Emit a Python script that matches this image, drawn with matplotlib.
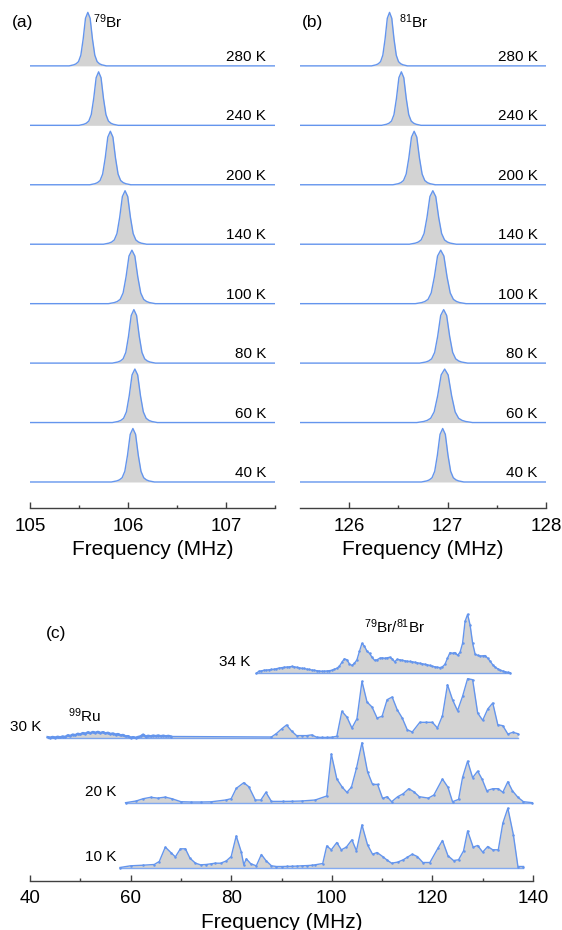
import numpy as np
import matplotlib
matplotlib.use('Agg')
from matplotlib import pyplot as plt
import matplotlib.ticker as tck

plt.rcParams['font.family'] = ['Liberation Sans', 'DejaVu Sans']
plt.rcParams['mathtext.default'] = 'regular'

W, H = 562, 930
LINE = '#6495ed'
FILL = '#d3d3d3'
AXC = '#404040'

# ---- panels (a) and (b): one line per temperature
temps_ab = ['280 K', '240 K', '200 K', '140 K', '100 K', '80 K', '60 K', '40 K']
center_79 = [105.59, 105.70, 105.82, 105.97, 106.04, 106.06, 106.07, 106.05]
fwhm_79 = [0.095, 0.100, 0.105, 0.110, 0.120, 0.110, 0.115, 0.110]
center_81 = [126.41, 126.53, 126.66, 126.85, 126.93, 126.96, 126.97, 126.95]
fwhm_81 = [0.091, 0.100, 0.108, 0.119, 0.129, 0.122, 0.142, 0.108]
peak_height = 0.9
# line shape (offset in units of FWHM, relative height)
shape_u = [-2.0, -1.75, -1.5, -1.25, -1.0, -0.75, -0.5, -0.25, 0.0,
           0.25, 0.5, 0.75, 1.0, 1.25, 1.5, 1.75, 2.0]
shape_v = [0.0, 0.01, 0.02, 0.04, 0.08, 0.2, 0.5, 0.89, 1.0,
           0.89, 0.5, 0.2, 0.08, 0.04, 0.02, 0.01, 0.0]

# ---- panel (c): frequency (MHz), intensity (arb. u.)
spec_10K = [(57.9, 0), (60, 1.7), (62.5, 2.3), (64.7, 3.0), (65.7, 6.0), (66.9, 20.4),
            (68, 15.0), (68.9, 10.6), (69.9, 18.7), (70.9, 18.7), (71.8, 9.3), (72.9, 4.3),
            (73.9, 2.7), (75, 3.0), (76, 3.7), (76.8, 4.3), (77.9, 4.3), (79, 6.5),
            (80, 11.0), (81, 31.6), (82, 15.6), (82.5, 2.7), (83, 8.7), (83.9, 3.7),
            (85, 1.7), (86, 13.0), (86.9, 7.0), (88, 1.7), (89, 1.0), (90, 1.0),
            (91, 1.1), (92, 1.2), (93, 1.4), (94, 1.7), (95, 1.9), (96, 2.2),
            (96.7, 2.7), (98.2, 4.0), (99, 21.6), (99.9, 17.7), (101, 25.0), (101.9, 17.7),
            (102.9, 20.4), (104, 27.7), (104.9, 16.7), (106, 42.6), (107.1, 22.7), (108.1, 13.3),
            (109, 15.0), (110.1, 11.0), (111, 7.4), (111.9, 4.3), (113.1, 5.4), (114.2, 7.7),
            (115, 10.2), (116, 13.3), (117, 11.0), (118.1, 5.0), (119.5, 5.0), (121.1, 19.3),
            (122, 27.0), (123.1, 11.7), (124.2, 7.0), (125.2, 7.7), (126.2, 16.7), (127, 36.6),
            (128.1, 20.4), (129, 22.0), (130, 15.4), (131, 21.0), (132, 17.7), (133.1, 17.7),
            (134, 44.3), (135, 59.3), (136.1, 32.7), (137, 1.0), (138.1, 1.0)]

spec_20K = [(59.0, 0), (61.1, 1.7), (62.5, 4.0), (64.0, 5.4), (65.4, 4.6), (66.9, 5.6),
            (68.2, 4.0), (70.0, 1.0), (72, 0.7), (74, 0.7), (76, 0.9), (78.9, 2.7),
            (80, 4.0), (81, 14.3), (82.5, 20.0), (83.5, 16.0), (84.8, 2.7), (85.9, 2.7),
            (86.9, 10.4), (88, 1.3), (90.3, 1.3), (92, 1.4), (94, 1.7), (96.7, 2.7),
            (99, 6.7), (99.9, 48.7), (101, 23.7), (102.1, 15.4), (103, 10.4), (103.9, 15.4),
            (104.9, 34.3), (106, 60.0), (107.1, 31.0), (108.1, 18.3), (109.1, 18.3), (110.1, 4.3),
            (111, 6.0), (111.9, 1.0), (113.1, 6.0), (114.2, 9.0), (115.3, 14.0), (116.3, 11.0),
            (117.4, 6.0), (119.2, 4.6), (120.3, 7.7), (122, 23.7), (123.1, 15.4), (124, 1.0),
            (125.2, 3.3), (126, 25.3), (127, 41.6), (128, 25.0), (129, 31.6), (129.9, 23.3),
            (130.8, 12.0), (132, 14.0), (133.1, 14.0), (134, 10.4), (135, 21.0), (135.9, 12.0),
            (137, 5.4), (138.1, 1.0), (139.9, 0)]

# 30 K: 99Ru band (0.5 MHz steps from 43.5 MHz) then the Br lines
ru_int_30K = [0.8, 0.3, 1.0, 0.4, 1.2, 0.6, 1.5, 1.0, 2.6, 2.0,
              3.4, 2.8, 4.2, 3.6, 4.9, 4.3, 5.6, 4.8, 6.0, 5.2,
              6.1, 5.0, 5.8, 4.6, 5.2, 4.0, 4.5, 3.4, 3.9, 2.6,
              3.0, 1.6, 1.8, 0.4, 0.8, 0.2, 1.0, 1.6, 3.4, 1.4,
              2.2, 1.6, 2.4, 1.8, 2.5, 1.7, 2.3, 1.6, 2.1, 1.5]
br_30K = [(88, 1.0), (89, 4.5), (90, 9.0), (91, 13.0), (92, 7.0), (93, 2.4),
          (94, 2.4), (95, 2.4), (96, 3.1), (97, 0.8), (98, 0.6), (99, 0.6),
          (100, 0.8), (101, 1.7), (102, 26.7), (103, 21.0), (104, 10.0), (105, 19.3),
          (106, 56.7), (107, 36.0), (108, 31.0), (109, 20.0), (110, 21.7), (111, 38.3),
          (112, 41.0), (113, 28.3), (114, 20.0), (115, 8.3), (116, 6.0), (117.5, 15.7),
          (118.8, 15.7), (120, 15.7), (121, 10.0), (122, 22.3), (123, 53.3), (124, 38.3),
          (125, 27.3), (126, 41.7), (127, 59.3), (128, 58.3), (129, 25.0), (130, 17.7),
          (131, 29.0), (132, 35.0), (133, 13.3), (134, 12.3), (135, 4.0), (136, 5.7),
          (137, 4.3)]

# 34 K: 0.5 MHz steps from 85 MHz
int_34K = [0.0, 2.0, 2.4, 3.0, 3.2, 3.5, 3.8, 4.0, 4.6, 5.2,
           5.6, 6.0, 6.2, 6.4, 6.8, 6.5, 6.0, 5.6, 5.0, 4.8,
           4.2, 3.8, 3.3, 3.0, 2.6, 2.3, 2.0, 2.1, 2.3, 2.6,
           3.0, 4.0, 5.0, 7.0, 11.0, 14.5, 13.5, 9.5, 7.8, 10.0,
           13.5, 22.0, 30.0, 27.0, 22.0, 20.0, 16.0, 13.0, 13.5, 15.0,
           15.5, 15.0, 15.5, 16.0, 14.5, 11.5, 14.0, 13.5, 13.0, 12.5,
           12.0, 11.8, 11.5, 11.0, 10.5, 10.0, 9.5, 9.0, 8.5, 7.8,
           7.0, 6.5, 6.0, 5.7, 6.5, 9.0, 15.0, 20.7, 20.0, 20.7,
           18.0, 21.0, 30.0, 52.0, 59.0, 48.0, 30.0, 19.0, 18.0, 17.3,
           17.5, 17.7, 15.0, 12.0, 8.5, 6.0, 4.5, 3.0, 2.3, 1.5,
           0.9, 0.5]

temps_c = ['10 K', '20 K', '30 K', '34 K']
offsets_c = [0, 64.8, 129.5, 194.2]


def fig_rect(x0, y0, x1, y1):
    return [x0 / W, 1 - y1 / H, (x1 - x0) / W, (y1 - y0) / H]


def style_axis(ax, major, minor, labelsize, pad):
    for s in ['left', 'right', 'top']:
        ax.spines[s].set_visible(False)
    ax.spines['bottom'].set_color(AXC)
    ax.spines['bottom'].set_linewidth(1.0)
    ax.set_yticks([])
    ax.xaxis.set_major_locator(tck.FixedLocator(major))
    ax.xaxis.set_minor_locator(tck.FixedLocator(minor))
    ax.tick_params(axis='x', which='major', direction='in', length=4, width=1,
                   color=AXC, labelsize=labelsize, pad=pad)
    ax.tick_params(axis='x', which='minor', direction='in', length=2, width=1, color=AXC)
    ax.patch.set_visible(False)


fig = plt.figure(figsize=(W / 100, H / 100), dpi=100)

# ---------------- (a) and (b)
panels = [
    (fig_rect(30, 10, 275, 508), (105, 107.5), center_79, fwhm_79, [105, 106, 107],
     [105.5, 106.5, 107.5], 107.41),
    (fig_rect(300, 10, 546, 508), (125.5, 128), center_81, fwhm_81, [126, 127, 128],
     [126.5, 127.5], 127.915),
]
for rect, xlim, centers, widths, major, minor, xlab in panels:
    ax = fig.add_axes(rect)
    n = len(temps_ab)
    for i, (t, c, w) in enumerate(zip(temps_ab, centers, widths)):
        off = n - 1 - i
        x = np.concatenate([[xlim[0]], c + np.array(shape_u) * w, [xlim[1]]])
        y = np.concatenate([[0], np.array(shape_v) * peak_height, [0]]) + off
        ax.fill_between(x, off, y, color=FILL, lw=0)
        ax.plot(x, y, color=LINE, lw=1.0)
        ax.text(xlab, off + 0.15, t, ha='right', va='center', fontsize=11)
    ax.set_xlim(*xlim)
    ax.set_ylim(-0.4375, 7.94)
    style_axis(ax, major, minor, 13.5, 7)
    ax.set_xlabel('Frequency (MHz)', fontsize=15, labelpad=3.5)

fig.text(12 / W, 1 - 22 / H, '(a)', fontsize=12.5, ha='left', va='center')
fig.text(93 / W, 1 - 22 / H, '$^{79}$Br', fontsize=11, ha='left', va='center')
fig.text(302 / W, 1 - 22 / H, '(b)', fontsize=12.5, ha='left', va='center')
fig.text(399 / W, 1 - 22 / H, '$^{81}$Br', fontsize=11, ha='left', va='center')

# ---------------- (c)
axc = fig.add_axes(fig_rect(30, 590, 533, 880.7))
f10, i10 = np.array(spec_10K).T
f20, i20 = np.array(spec_20K).T
ru_f = np.arange(43.5, 68.01, 0.5)
br_f, br_i = np.array(br_30K).T
f30 = np.concatenate([ru_f, br_f])
i30 = np.concatenate([ru_int_30K, br_i])
f34 = np.arange(85, 85 + 0.5 * len(int_34K), 0.5)
i34 = np.array(int_34K)

series = [(f10, i10), (f20, i20), (f30, i30), (f34, i34)]
for k in [3, 2, 1, 0]:
    f, v = series[k]
    off = offsets_c[k]
    axc.fill_between(f, off, off + v, color=FILL, lw=0)
    axc.plot([f[0], f[-1]], [off, off], color=LINE, lw=1.0, alpha=0.8)
    axc.plot(f, off + v, color=LINE, lw=1.0, marker='o', ms=1.8, mew=0)

# Ru band looks thick in the original
axc.plot(f30[:len(ru_f)], offsets_c[2] + i30[:len(ru_f)], color=LINE, lw=1.8)

lab_x = [57.2, 57.2, 42.3, 83.9]
lab_dy = [10.8, 11, 11.3, 11.6]
for t, off, lx, dy in zip(temps_c, offsets_c, lab_x, lab_dy):
    axc.text(lx, off + dy, t, ha='right', va='center', fontsize=11, clip_on=False)
axc.text(47.5, offsets_c[2] + 22, '$^{99}$Ru', ha='left', va='center', fontsize=11)
axc.text(112.5, 240.8, '$^{79}$Br/$^{81}$Br', ha='center', va='center', fontsize=11)
fig.text(46 / W, 1 - 633 / H, '(c)', fontsize=12.5, ha='left', va='center')

axc.set_xlim(40, 140)
axc.set_ylim(-13.2, 277.5)
style_axis(axc, [40, 60, 80, 100, 120, 140], [50, 70, 90, 110, 130], 13.5, 7)
axc.set_xlabel('Frequency (MHz)', fontsize=15, labelpad=4)

fig.savefig('out.png', dpi=100)
